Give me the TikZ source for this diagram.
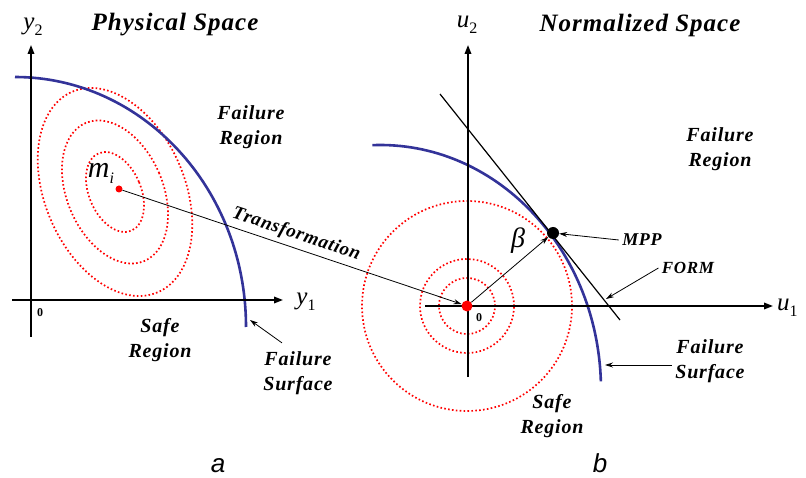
\documentclass[tikz,border=0pt]{standalone}
\usepackage{fontspec}
\setmainfont{Liberation Serif}
\setsansfont{Liberation Sans}
\newfontfamily\lblfont[LetterSpace=4.0]{Liberation Serif}
\usetikzlibrary{arrows.meta}
\definecolor{surfblue}{RGB}{51,51,153}
\newcommand{\axlab}[2]{\fontsize{25}{25}\selectfont\textit{#1}\raisebox{-6pt}{\fontsize{16}{16}\selectfont #2}}
\tikzset{
  lbl/.style={font=\lblfont\bfseries\itshape\fontsize{20}{25}\selectfont, align=center},
  axis/.style={line width=1.8pt, -{Triangle[length=9pt,width=6.5pt]}},
  contour/.style={red, line width=1.7pt, dash pattern={on 1.6pt off 2.3pt}},
  surf/.style={surfblue, line width=2.6pt},
  pointer/.style={line width=0.8pt, -{Stealth[length=8pt,width=5pt]}},
  dot/.style={circle, inner sep=0pt, fill=#1},
}
\begin{document}
\begin{tikzpicture}[x=1pt,y=1pt]
    \useasboundingbox (0,0) rectangle (806,477);

    % ---- Physical space ----
    \coordinate (O1) at (31,177);
    \coordinate (M) at (115,285);

    % Draw contours
    \foreach \rb/\ra in {26/42,48/75,70/109} {
        \draw[contour, rotate around={23:(M)}] (M) ellipse[x radius=\rb, y radius=\ra];
    }

    % Draw failure surface
    \draw[surf] (15,400) arc[start angle=90, end angle=0, x radius=231, y radius=250];

    % Draw axes
    \draw[axis] (31,140) -- (31,432);
    \draw[axis] (12,177) -- (283,177);
    \node at (33,450) {\axlab{y}{2}};
    \node at (306,175) {\axlab{y}{1}};
    \node[font=\bfseries\fontsize{12}{12}\selectfont] at (40,164) {0};

    % Draw mean point
    \node[dot=red, minimum size=7pt] (mi) at (119,288) {};
    \node at (101,304) {\fontsize{30}{30}\selectfont\textit{m}\raisebox{-6pt}{\fontsize{16}{16}\selectfont\textit{i}}};

    % Labels
    \node[lbl, font=\lblfont\bfseries\itshape\fontsize{25}{25}\selectfont] at (175,452) {Physical Space};
    \node[lbl] at (251,350) {Failure\\Region};
    \node[lbl] at (160,137) {Safe\\Region};
    \node[lbl] (fsL) at (298,104) {Failure\\Surface};
    \coordinate (fsLpt) at (250,157);
    \draw[pointer] ([xshift=-16pt,yshift=5pt]fsL.north) -- (fsLpt);
    \node[anchor=base, font=\sffamily\itshape\fontsize{26}{26}\selectfont] at (218,5) {a};

    % ---- Normalized space ----
    \coordinate (O2) at (467,171);

    % Draw contours
    \foreach \r in {28,47,105} {
        \draw[contour] (O2) circle[radius=\r];
    }

    % Draw failure surface and FORM line
    \draw[surf] ([shift={(92:221 and 245)}]380,87) arc[start angle=92, end angle=2, x radius=221, y radius=245];
    \coordinate (f1) at (440,383);
    \coordinate (f2) at (620,157);
    \draw[line width=1.2pt] (f1) -- (f2);

    % Draw axes
    \draw[axis] (468,100) -- (468,432);
    \draw[axis] (425,171) -- (773,171);
    \node at (467,452) {\axlab{u}{2}};
    \node[anchor=west, inner sep=0pt] at (777,169) {\axlab{u}{1}};
    \node[font=\bfseries\fontsize{12}{12}\selectfont] at (479,159) {0};

    % Draw origin and MPP
    \node[dot=red, minimum size=11pt] (o2) at (O2) {};
    \node[dot=black, minimum size=12pt] (mpp) at (553,244) {};
    \draw[pointer] (o2) -- (mpp);
    \node at (518,236) {\fontsize{28}{28}\selectfont\textit{β}};

    % Transformation
    \draw[pointer] (mi) -- node[lbl, sloped, above=1pt, pos=0.5, font=\lblfont\bfseries\itshape\fontsize{19}{19}\selectfont] {Transformation} (o2);

    % Labels
    \node[lbl, font=\lblfont\bfseries\itshape\fontsize{25}{25}\selectfont] at (640,452) {Normalized Space};
    \node[lbl] at (720,328) {Failure\\Region};
    \node[lbl] at (552,61) {Safe\\Region};
    \node[lbl, font=\lblfont\bfseries\itshape\fontsize{18}{18}\selectfont] (mpplbl) at (642,237) {MPP};
    \draw[pointer] (mpplbl.west) -- (mpp);
    \node[lbl, font=\lblfont\bfseries\itshape\fontsize{17}{17}\selectfont] (formlbl) at (688,209) {FORM};
    \coordinate (formpt) at (606,178);
    \draw[pointer] (formlbl.west) -- (formpt);
    \node[lbl] (fsR) at (710,116) {Failure\\Surface};
    \coordinate (fsRpt) at (605,112);
    \draw[pointer] ([yshift=-4pt]fsR.west) -- (fsRpt);
    \node[anchor=base, font=\sffamily\itshape\fontsize{26}{26}\selectfont] at (600,5) {b};
\end{tikzpicture}
\end{document}
